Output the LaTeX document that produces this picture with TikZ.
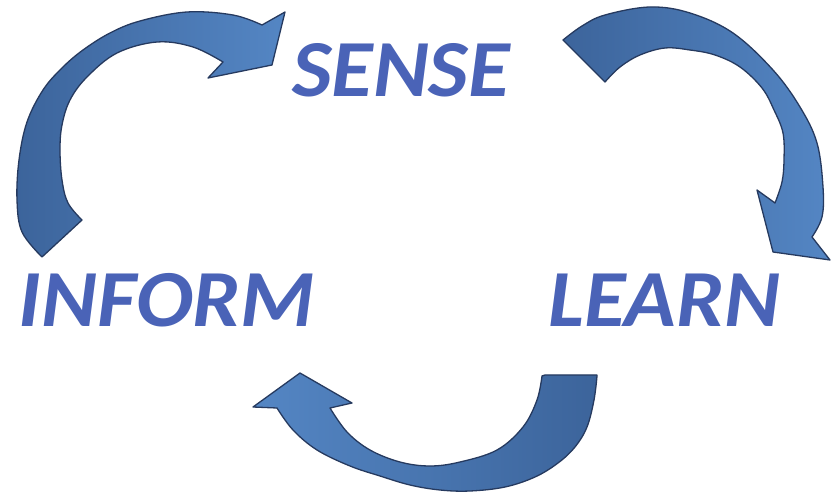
\documentclass[tikz,border=0pt]{standalone}
\usepackage{fontspec}
\setmainfont{Carlito}
\definecolor{txtblue}{RGB}{74,99,183}
\definecolor{arrlight}{RGB}{84,134,196}
\definecolor{arrdark}{RGB}{60,100,155}
\definecolor{arredge}{RGB}{38,58,95}
\newcommand{\wordbox}[1]{\scalebox{1.05}[1]{#1}}
\begin{document}
\begin{tikzpicture}[x=1pt,y=-1pt,
  word/.style={font=\fontsize{81}{96}\selectfont\bfseries\itshape, text=txtblue, anchor=base, inner sep=0pt},
  blockarrow/.style={draw=arredge, line width=1.3pt, line join=round}]
\useasboundingbox (0,0) rectangle (833,494);

% words
\node[word] (sense)  at (401,97)  {\wordbox{SENSE}};
\node[word] (inform) at (167,327) {\wordbox{INFORM}};
\node[word] (learn)  at (664,327) {\wordbox{LEARN}};

% arrow INFORM -> SENSE
\path[blockarrow, left color=arrdark, right color=arrlight]
  plot[smooth, tension=0.6] coordinates {(42,257) (22,232) (17,200) (19,160) (27,122) (43,90) (62,68) (83,50) (110,33) (140,21) (187,12) (233,15) (262,25)}
  -- (285,12) -- (272,65) -- (208,78)
  -- plot[smooth, tension=0.6] coordinates {(223,62) (193,47) (157,42) (117,53) (87,77) (70,100) (62,125) (60,150) (62,180) (68,203) (82,220)}
  -- cycle;

% arrow SENSE -> LEARN
\path[blockarrow, left color=arrdark, right color=arrlight]
  plot[smooth, tension=0.6] coordinates {(563,40) (582,26) (605,15) (650,7) (690,13) (733,33) (773,70) (800,107) (817,143) (823,187) (822,217) (812,237)}
  -- (830,260) -- (773,252) -- (757,190)
  -- plot[smooth, tension=0.6] coordinates {(775,203) (782,182) (784,160) (783,133) (774,110) (762,88) (740,67) (715,55) (690,50) (665,48) (640,55) (620,67) (605,82)}
  -- cycle;

% arrow LEARN -> INFORM
\path[blockarrow, left color=arrlight, right color=arrdark]
  (545,375) -- (597,375)
  -- plot[smooth, tension=0.6] coordinates {(597,376) (594,400) (587,427) (575,447) (558,463) (535,477) (505,487) (470,491) (440,490) (410,485) (380,476) (350,466) (317,450) (293,430) (277,408)}
  -- (253,407) -- (300,373) -- (352,403)
  -- plot[smooth, tension=0.6] coordinates {(330,408) (347,432) (370,450) (400,462) (430,466) (460,462) (497,450) (523,427) (537,400) (542,376)}
  -- cycle;
\end{tikzpicture}
\end{document}
